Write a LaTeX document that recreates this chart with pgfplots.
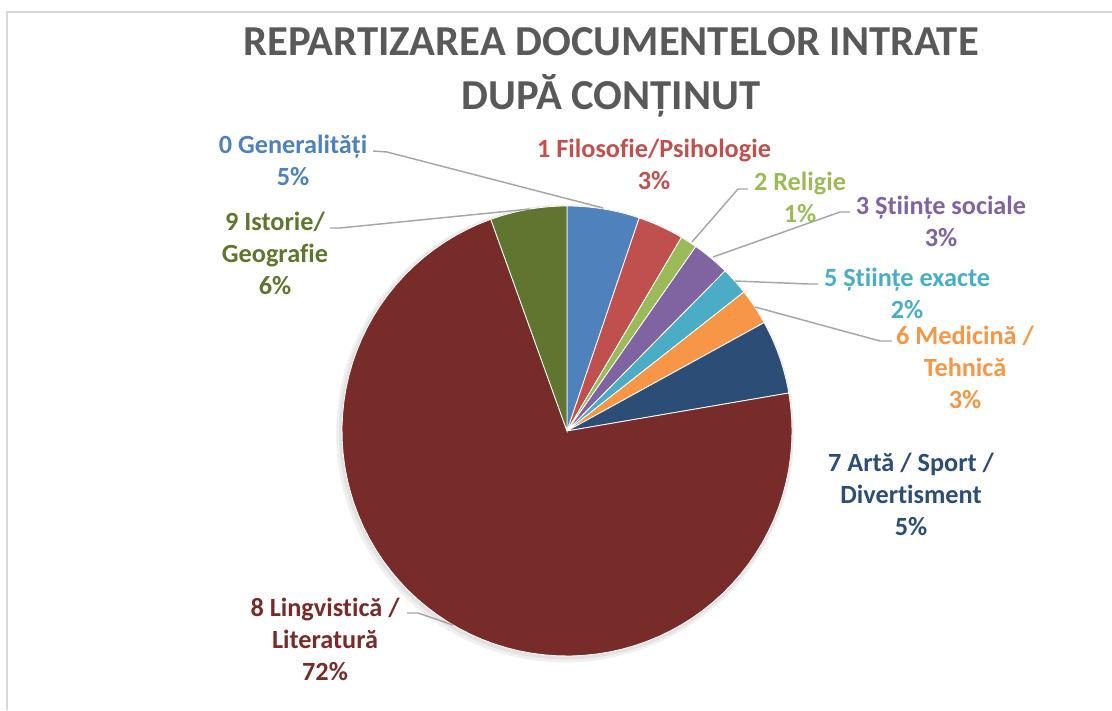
\documentclass[border=0pt]{standalone}
\usepackage{fontspec}
\setmainfont{Carlito}[Ligatures={NoCommon}]
\usepackage{pgfplots}
\usepackage{pgfplotstable}
\pgfplotsset{compat=1.18}

\definecolor{slice0}{HTML}{4F81BD}
\definecolor{slice1}{HTML}{C0504D}
\definecolor{slice2}{HTML}{9BBB59}
\definecolor{slice3}{HTML}{8064A2}
\definecolor{slice4}{HTML}{4BACC6}
\definecolor{slice5}{HTML}{F79646}
\definecolor{slice6}{HTML}{2C4D75}
\definecolor{slice7}{HTML}{772C2A}
\definecolor{slice8}{HTML}{5F7530}
\definecolor{titlegrey}{HTML}{595959}
\definecolor{leader}{HTML}{A6A6A6}
\definecolor{frame}{HTML}{D9D9D9}

\tikzset{lbl/.style={font=\fontsize{19.7}{24}\selectfont\bfseries, align=center}}

% share of documents (percent), clockwise from 12 o'clock
\pgfplotstableread{
id value
0 5.2
1 3.3
2 1.2
3 2.7
5 2.0
6 2.6
7 5.3
8 72.2
9 5.5
}\pies
\pgfplotstablecreatecol[create col/expr accum={\pgfmathaccuma + \thisrow{value}}{0}]{cum}\pies

\begin{document}
\begin{tikzpicture}
\begin{axis}[
  scale only axis, width=834pt, height=532.5pt,
  xmin=0, xmax=1112, ymin=0, ymax=710,
  hide axis, clip=false,
]
% frame
\addplot[frame, line width=1.5pt] coordinates {(7,0) (7,698) (1112,698)};

% soft shadow
\addplot[fill=black, opacity=0.06, draw=none, domain=0:360, samples=120]
  ({565+229*cos(x)},{276.5+229*sin(x)});
\addplot[fill=black, opacity=0.06, draw=none, domain=0:360, samples=120]
  ({566+227*cos(x)},{277.5+227*sin(x)});

% slices
\pgfplotsinvokeforeach{0,...,8}{
  \pgfplotstablegetelem{#1}{cum}\of\pies \let\c=\pgfplotsretval
  \pgfplotstablegetelem{#1}{value}\of\pies \let\v=\pgfplotsretval
  \pgfmathsetmacro\aS{90-3.6*(\c-\v)}
  \pgfmathsetmacro\aE{90-3.6*\c}
  \edef\temp{\noexpand\addplot[fill=slice#1, draw=white, line width=0.6pt, domain=\aE:\aS, samples=80]
    ({567+225*cos(x)},{279+225*sin(x)}) -- (axis cs:567,279) -- cycle;}
  \temp
}

% leader lines
\addplot[leader, line width=1.1pt] coordinates {(373,559) (387,558) (603,502)};
\addplot[leader, line width=1.1pt] coordinates {(748,521) (738,521) (692,468)};
\addplot[leader, line width=1.1pt] coordinates {(850,498) (840,498) (713,453)};
\addplot[leader, line width=1.1pt] coordinates {(818,426) (808,426) (735,429)};
\addplot[leader, line width=1.1pt] coordinates {(892,369) (880,369) (755,403)};
\addplot[leader, line width=1.1pt] coordinates {(407,97) (418,97) (453,85)};
\addplot[leader, line width=1.1pt] coordinates {(330,482) (340,482) (530,501)};

% title
\node[font=\fontsize{32}{40.5}\selectfont\bfseries, text=titlegrey, align=center]
  at (axis cs:611,638) {REPARTIZAREA DOCUMENTELOR INTRATE\\DUPĂ CONȚINUT};

% labels
\node[lbl, text=slice0] at (axis cs:293,549.5) {0 Generalități\\5\%};
\node[lbl, text=slice1] at (axis cs:654,545.5) {1 Filosofie/Psihologie\\3\%};
\node[lbl, text=slice2] at (axis cs:800,512.5) {2 Religie\\1\%};
\node[lbl, text=slice3] at (axis cs:941,488.5) {3 Științe sociale\\3\%};
\node[lbl, text=slice4] at (axis cs:907,416.5) {5 Științe exacte\\2\%};
\node[lbl, text=slice5] at (axis cs:965,343) {6 Medicină /\\Tehnică\\3\%};
\node[lbl, text=slice6] at (axis cs:911,215.5) {7 Artă / Sport /\\Divertisment\\5\%};
\node[lbl, text=slice7] at (axis cs:325,70.5) {8 Lingvistică /\\Literatură\\72\%};
\node[lbl, text=slice8] at (axis cs:275,456.5) {9 Istorie/\\Geografie\\6\%};
\end{axis}
\pgfresetboundingbox
\path (current axis.south west) rectangle (current axis.north east);
\end{tikzpicture}
\end{document}
